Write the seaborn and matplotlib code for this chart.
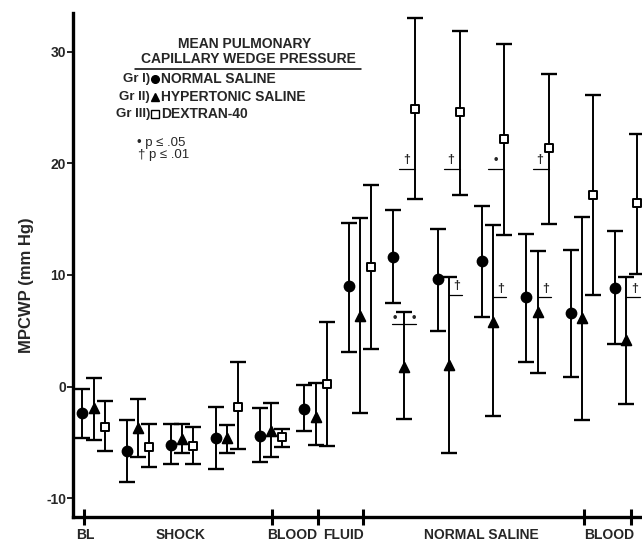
import matplotlib
matplotlib.use("Agg")
import matplotlib.pyplot as plt
import seaborn as sns
import pandas as pd
import numpy as np
from matplotlib.lines import Line2D

# ---------------- data ----------------
timepoints = list(range(13))

ns_mean = [-2.36, -5.8, -5.2, -4.6, -4.4, -2.0, 9.0, 11.6, 9.6, 11.25, 8.0, 6.6, 8.85]
ns_hi   = [-0.2, -3.0, -3.3, -1.8, -1.9, 0.15, 14.65, 15.8, 14.1, 16.2, 13.7, 12.2, 13.9]
ns_lo   = [-4.6, -8.5, -6.9, -7.4, -6.7, -4.0, 3.1, 7.5, 5.0, 6.2, 2.2, 0.9, 3.8]

hs_mean = [-1.9, -3.7, -4.7, -4.6, -4.0, -2.7, 6.3, 1.75, 1.95, 5.8, 6.7, 6.15, 4.2]
hs_hi   = [0.8, -1.1, -3.3, -3.4, -1.5, 0.35, 15.1, 6.7, 9.8, 14.5, 12.15, 15.2, 9.8]
hs_lo   = [-4.8, -6.3, -5.9, -5.9, -6.3, -5.2, -2.4, -2.9, -5.9, -2.6, 1.2, -3.0, -1.55]

dx_mean = [-3.6, -5.4, -5.3, -1.8, -4.5, 0.2, 10.7, 24.9, 24.6, 22.2, 21.4, 17.2, 16.4]
dx_hi   = [-1.3, -3.3, -3.6, 2.2, -3.8, 5.8, 18.05, 33.0, 31.8, 30.7, 28.0, 26.1, 22.6]
dx_lo   = [-5.8, -7.2, -6.9, -5.6, -5.4, -5.3, 3.4, 16.8, 17.2, 13.6, 14.6, 8.2, 10.1]

groups = ["NORMAL SALINE", "HYPERTONIC SALINE", "DEXTRAN-40"]

phase_tick_pos = [-0.21, 4.02, 5.06, 6.07, 11.05, 12.11]
phase_labels = ["BL", "SHOCK", "BLOOD", "FLUID", "NORMAL SALINE", "BLOOD"]
phase_label_x = [-0.19, 1.95, 4.47, 5.64, 8.73, 11.61]

# significance marks
dx_sig_t = [7, 8, 9, 10]
dx_sig_sym = ["\u2020", "\u2020", "\u2022", "\u2020"]
dx_sig_level = 19.5
hs_sig_t = [8, 9, 10, 12]
hs_sig_sym = ["\u2020", "\u2020", "\u2020", "\u2020"]
hs_sig_level = [8.2, 8.0, 8.0, 8.0]
hs_both_t = 7
hs_both_level = 5.6

# ---------------- build table ----------------
offsets = {"NORMAL SALINE": -0.25, "HYPERTONIC SALINE": 0.0, "DEXTRAN-40": 0.25}
rows = []
for g, m, lo, hi in [("NORMAL SALINE", ns_mean, ns_lo, ns_hi),
                     ("HYPERTONIC SALINE", hs_mean, hs_lo, hs_hi),
                     ("DEXTRAN-40", dx_mean, dx_lo, dx_hi)]:
    for t, a, b, c in zip(timepoints, m, lo, hi):
        rows.append(dict(group=g, t=t, x=t + offsets[g], mean=a, lo=b, hi=c))
df = pd.DataFrame(rows)

# ---------------- style ----------------
sns.set_style("ticks")
plt.rcParams["font.family"] = ["Liberation Sans", "DejaVu Sans"]
plt.rcParams["axes.unicode_minus"] = False

W, H = 642, 541
fig = plt.figure(figsize=(W / 100, H / 100), dpi=100)
ax_left, ax_right, ax_top, ax_bot = 73, 642, 13, 516.5
ax = fig.add_axes([ax_left / W, 1 - ax_bot / H, (ax_right - ax_left) / W, (ax_bot - ax_top) / H])

# error bars
for g in groups:
    d = df[df.group == g]
    ax.errorbar(d["x"], d["mean"], yerr=[d["mean"] - d["lo"], d["hi"] - d["mean"]],
                fmt="none", ecolor="black", elinewidth=1.4, capsize=5.5, capthick=1.7, zorder=2)

marker_map = {"NORMAL SALINE": "o", "HYPERTONIC SALINE": "^", "DEXTRAN-40": "s"}
face_map = {"NORMAL SALINE": "black", "HYPERTONIC SALINE": "black", "DEXTRAN-40": "white"}
size_map = {"NORMAL SALINE": 50, "HYPERTONIC SALINE": 48, "DEXTRAN-40": 38}
for g in groups:
    sns.scatterplot(data=df[df.group == g], x="x", y="mean", marker=marker_map[g],
                    color=face_map[g], edgecolor="black", linewidth=1.4,
                    s=size_map[g], ax=ax, zorder=3, legend=False)

# significance brackets
for t, sym in zip(dx_sig_t, dx_sig_sym):
    xs = t + offsets["DEXTRAN-40"]
    ax.plot([xs - 0.36, xs], [dx_sig_level, dx_sig_level], color="black", lw=0.9, zorder=1)
    ax.text(xs - 0.2, dx_sig_level + 0.25, sym, ha="center", va="bottom",
            fontsize=9, fontweight="bold")
for t, sym, lvl in zip(hs_sig_t, hs_sig_sym, hs_sig_level):
    xt = t + offsets["HYPERTONIC SALINE"]
    ax.plot([xt, xt + 0.3], [lvl, lvl], color="black", lw=0.9, zorder=1)
    ax.text(xt + 0.18, lvl + 0.25, sym, ha="center", va="bottom",
            fontsize=9, fontweight="bold")
xt = hs_both_t + offsets["HYPERTONIC SALINE"]
ax.plot([xt - 0.27, xt + 0.27], [hs_both_level, hs_both_level], color="black", lw=0.9, zorder=1)
for s in (-1, 1):
    ax.text(xt + s * 0.21, hs_both_level + 0.05, "\u2022", ha="center", va="bottom",
            fontsize=9, fontweight="bold")

# axes
ax.set_xlim((ax_left - 93.5) / 44.4, (ax_right - 93.5) / 44.4)
ax.set_ylim(-11.62, 33.45)
ax.set_yticks([-10, 0, 10, 20, 30])
ax.set_yticklabels(["-10", "0", "10", "20", "30"], fontsize=10, fontweight="bold")
ax.set_xticks(phase_tick_pos)
ax.set_xticklabels([])
ax.tick_params(axis="x", direction="inout", length=11, width=2.2, color="black")
ax.tick_params(axis="y", direction="out", length=4, width=1.2, color="black", pad=1)
for side in ("top", "right"):
    ax.spines[side].set_visible(False)
for side in ("left", "bottom"):
    ax.spines[side].set_linewidth(2.4)
    ax.spines[side].set_color("black")
ax.set_xlabel("")
ax.set_ylabel("MPCWP (mm Hg)", fontsize=12, fontweight="bold")
ax.yaxis.set_label_coords((34 - ax_left) / (ax_right - ax_left), (ax_bot - 285) / (ax_bot - ax_top))

trans = matplotlib.transforms.blended_transform_factory(ax.transData, ax.transAxes)
lab_y = (ax_bot - 535) / (ax_bot - ax_top)
for xp, lab in zip(phase_label_x, phase_labels):
    ax.text(xp, lab_y, lab, transform=trans, ha="center", va="center",
            fontsize=10, fontweight="bold", clip_on=False)

# ---------------- legend block (figure coords) ----------------
def fx(px):
    return px / W

def fy(py):
    return 1 - py / H

fig.text(fx(245), fy(44), "MEAN PULMONARY", ha="center", va="center", fontsize=10, fontweight="bold")
fig.text(fx(248), fy(59), "CAPILLARY WEDGE PRESSURE", ha="center", va="center", fontsize=10, fontweight="bold")
fig.add_artist(Line2D([fx(135), fx(361)], [fy(69), fy(69)], color="black", lw=1.1))

leg_rows = [("Gr I)", "NORMAL SALINE", "o", "black", 79),
            ("Gr II)", "HYPERTONIC SALINE", "^", "black", 97),
            ("Gr III)", "DEXTRAN-40", "s", "white", 114)]
for pre, name, mk, fc, py in leg_rows:
    fig.text(fx(150), fy(py), pre, ha="right", va="center", fontsize=9.5, fontweight="bold")
    fig.add_artist(Line2D([fx(155)], [fy(py)], marker=mk, markersize=5.5,
                          markerfacecolor=fc, markeredgecolor="black", markeredgewidth=1.0,
                          linestyle="none"))
    fig.text(fx(161), fy(py), name, ha="left", va="center", fontsize=10, fontweight="bold")

fig.text(fx(137), fy(143), "\u2022 p \u2264 .05", ha="left", va="center", fontsize=9.5)
fig.text(fx(138), fy(155), "\u2020 p \u2264 .01", ha="left", va="center", fontsize=9.5)

fig.savefig("out.png", dpi=100)
